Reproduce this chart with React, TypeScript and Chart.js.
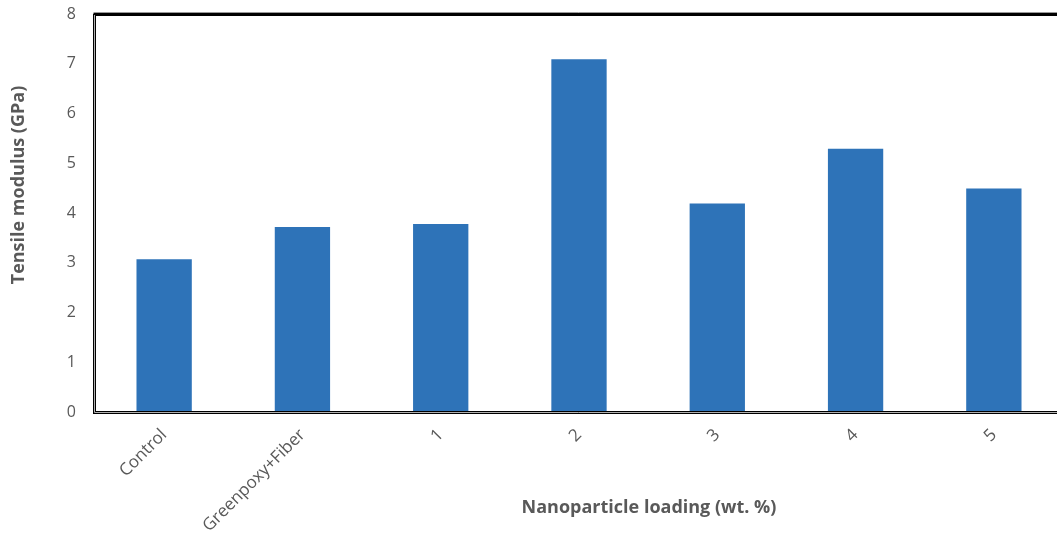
import React, { useEffect, useRef } from "react";
import { Chart, registerables } from "chart.js";

Chart.register(...registerables);

// Tensile modulus by nanoparticle loading
const categories: string[] = ["Control", "Greenpoxy+Fiber", "1", "2", "3", "4", "5"];
const modulusGPa: number[] = [3.07, 3.72, 3.78, 7.09, 4.19, 5.29, 4.49];
const yTicks: number[] = [0, 1, 2, 3, 4, 5, 6, 7, 8];

const xTitle = "Nanoparticle loading (wt. %)";
const yTitle = "Tensile modulus (GPa)";

const TEXT = "#595959";
const BAR = "#2E73B8";
const FONT = "'Open Sans', 'DejaVu Sans', sans-serif";

// Heavy double-rule frame around the plot area (top, left, bottom) plus axis titles
const framePlugin = {
  id: "frame",
  afterDatasetsDraw(chart: any) {
    const { ctx, chartArea } = chart;
    const { left, right, top, bottom } = chartArea;
    ctx.save();
    ctx.lineCap = "butt";
    // top rule
    ctx.strokeStyle = "#000";
    ctx.lineWidth = 3;
    ctx.beginPath();
    ctx.moveTo(left - 1.5, top + 0.5);
    ctx.lineTo(right, top + 0.5);
    ctx.stroke();
    ctx.strokeStyle = "#9a9a9a";
    ctx.lineWidth = 1;
    ctx.beginPath();
    ctx.moveTo(left - 1.5, top - 1.5);
    ctx.lineTo(right, top - 1.5);
    ctx.stroke();
    // left and bottom double rules
    ctx.strokeStyle = "#000";
    ctx.lineWidth = 3;
    ctx.beginPath();
    ctx.moveTo(left - 0.5, top);
    ctx.lineTo(left - 0.5, bottom + 0.5);
    ctx.lineTo(right, bottom + 0.5);
    ctx.stroke();
    ctx.strokeStyle = "#b0b0b0";
    ctx.lineWidth = 1;
    ctx.beginPath();
    ctx.moveTo(left - 0.5, top + 1);
    ctx.lineTo(left - 0.5, bottom + 0.5);
    ctx.lineTo(right, bottom + 0.5);
    ctx.stroke();
    ctx.restore();
  },
  afterDraw(chart: any) {
    const { ctx } = chart;
    ctx.save();
    ctx.fillStyle = TEXT;
    ctx.font = `bold 18px ${FONT}`;
    ctx.textAlign = "center";
    ctx.textBaseline = "middle";
    ctx.fillText(xTitle, 649, 508);
    ctx.translate(19, 185);
    ctx.rotate(-Math.PI / 2);
    ctx.fillText(yTitle, 0, 0);
    ctx.restore();
  },
};

export default function App() {
  const canvasRef = useRef<HTMLCanvasElement | null>(null);

  useEffect(() => {
    const canvas = canvasRef.current;
    if (!canvas) return;
    const chart = new Chart(canvas, {
      type: "bar",
      data: {
        labels: categories,
        datasets: [
          {
            data: modulusGPa,
            backgroundColor: BAR,
            borderWidth: 0,
            barPercentage: 0.4,
            categoryPercentage: 1,
          },
        ],
      },
      options: {
        animation: false,
        responsive: false,
        devicePixelRatio: 1,
        layout: { padding: { top: 14, right: 17, bottom: 0, left: 0 } },
        plugins: {
          legend: { display: false },
          tooltip: { enabled: false },
        },
        scales: {
          x: {
            grid: { display: false, drawTicks: false },
            border: { display: false },
            ticks: {
              color: TEXT,
              font: { family: FONT, size: 17 },
              minRotation: 45,
              maxRotation: 45,
              autoSkip: false,
              padding: 13,
            },
            afterFit(scale: any) {
              scale.height = 124;
              scale.paddingLeft = 0;
              scale.paddingRight = 0;
            },
          },
          y: {
            min: 0,
            max: 8,
            grid: { display: false, drawTicks: false },
            border: { display: false },
            afterBuildTicks(scale: any) {
              scale.ticks = yTicks.map((v) => ({ value: v }));
            },
            ticks: {
              color: TEXT,
              font: { family: FONT, size: 16 },
              padding: 19,
            },
            afterFit(scale: any) {
              scale.width = 95;
              scale.paddingTop = 0;
              scale.paddingBottom = 0;
            },
          },
        },
      },
      plugins: [framePlugin],
    });
    return () => chart.destroy();
  }, []);

  return (
    <div
      style={{
        position: "fixed",
        left: 0,
        top: 0,
        width: 1057,
        height: 536,
        overflow: "hidden",
        background: "#fff",
      }}
    >
      <canvas ref={canvasRef} width={1080} height={536} style={{ display: "block" }} />
    </div>
  );
}
